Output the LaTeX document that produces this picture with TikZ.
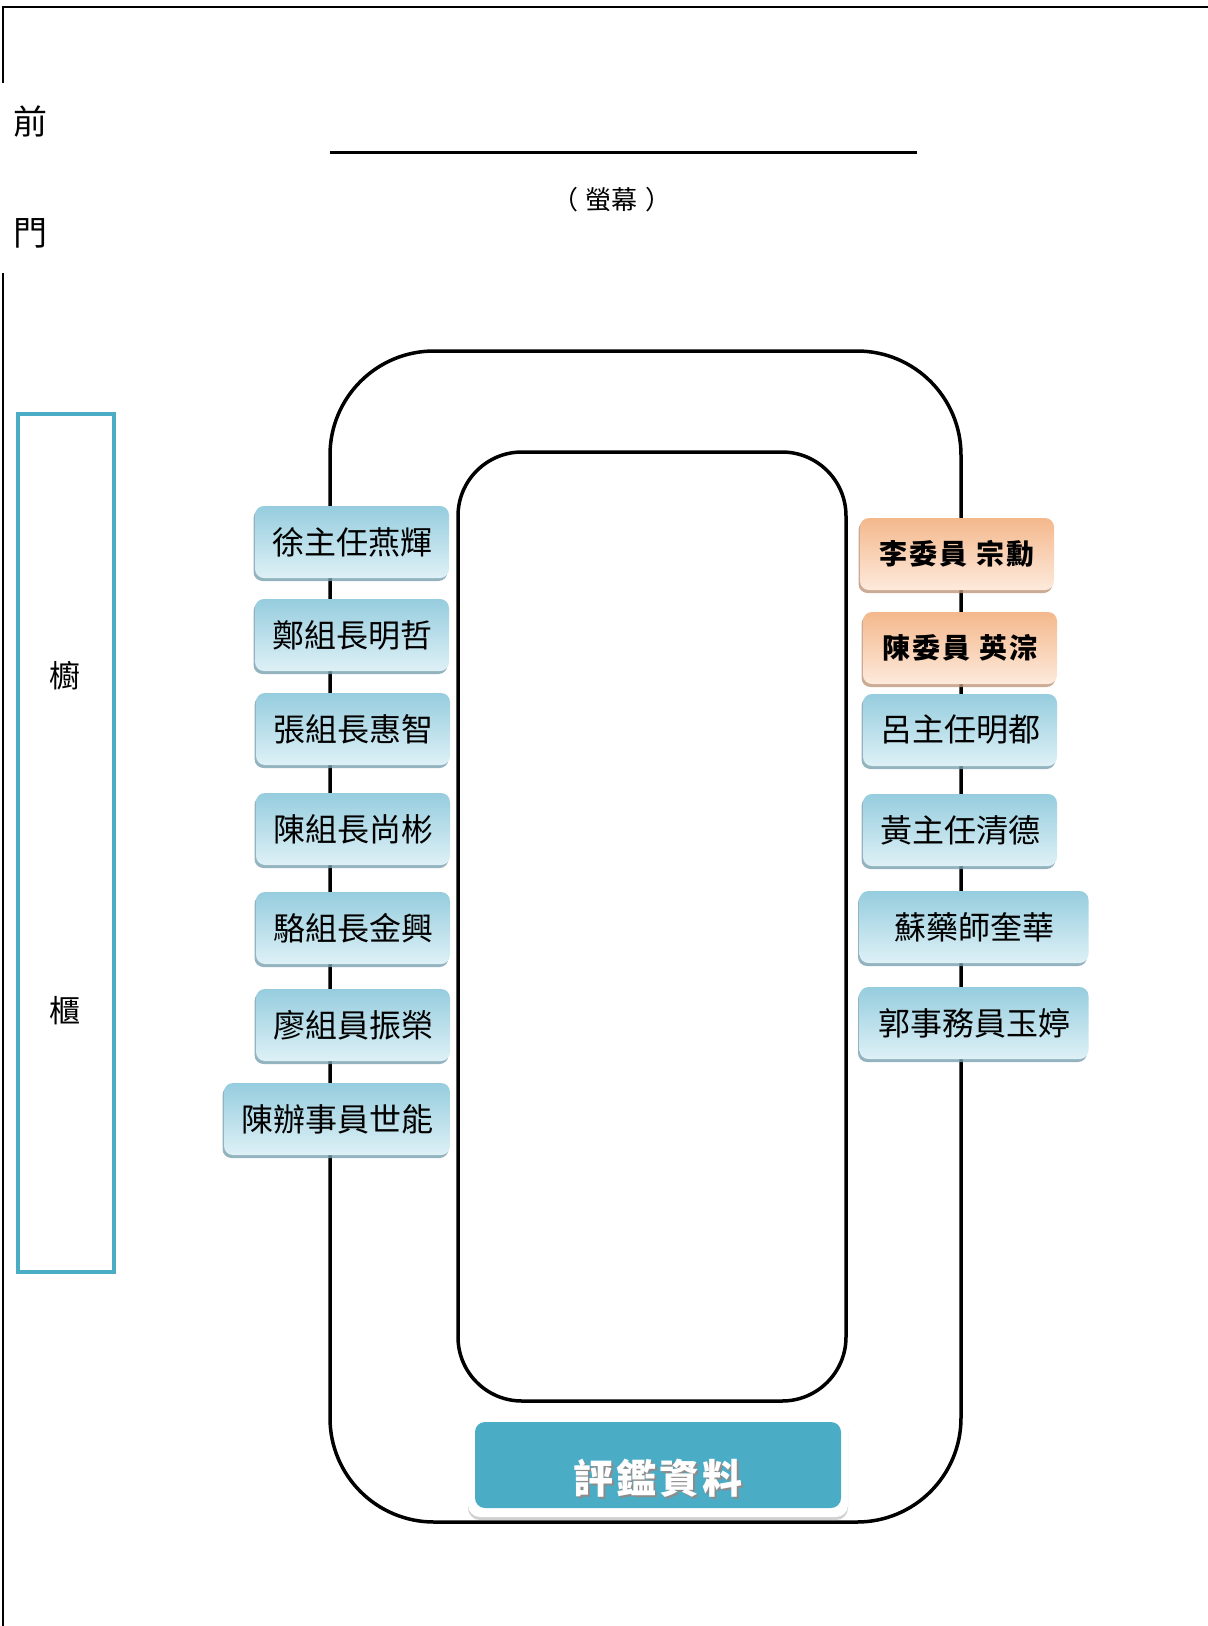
\documentclass[tikz,border=0pt]{standalone}
\usepackage{fontspec}
\newfontfamily\cjk{Noto Sans CJK TC}
\newfontfamily\cjkwide{Noto Sans CJK TC}[LetterSpace=8]
\usetikzlibrary{shadows}
\definecolor{tealline}{RGB}{75,172,198}
\definecolor{bluetop}{RGB}{150,205,222}
\definecolor{bluebot}{RGB}{222,241,246}
\definecolor{orgtop}{RGB}{244,184,140}
\definecolor{orgbot}{RGB}{253,234,220}
\definecolor{bshadow}{RGB}{120,160,175}
\definecolor{oshadow}{RGB}{190,150,120}
\tikzset{
  seat/.style={rounded corners=9pt, draw=none, inner sep=0pt,
    minimum height=72pt, text=black,
    font=\cjk\fontsize{32}{34}\selectfont},
  blueseat/.style={seat, top color=bluetop, bottom color=bluebot,
    drop shadow={shadow xshift=-1.5pt, shadow yshift=-3pt, fill=bshadow, opacity=.8}},
  orangeseat/.style={seat, top color=orgtop, bottom color=orgbot,
    font=\cjkwide\bfseries\fontsize{28}{30}\selectfont,
    drop shadow={shadow xshift=-1.5pt, shadow yshift=-3pt, fill=oshadow, opacity=.8}},
  wall/.style={line width=2.5pt, black},
  label/.style={font=\cjk\fontsize{#1}{#1}\selectfont, inner sep=0pt}
}
\begin{document}
\begin{tikzpicture}[x=1pt,y=-1pt]
\useasboundingbox (0,0) rectangle (1208,1626);
% walls / door
\draw[wall] (3,83) -- (3,7) -- (1208,7);
\draw[wall] (3,273) -- (3,1626);
\node[label=34] (qian) at (30,122) {前};
\node[label=34] (men) at (30,233) {門};
% screen
\draw[line width=3pt] (330,152) -- (917,152);
\node[label=26] (screen) at (612,200) {（\hspace{8pt}螢幕\hspace{8pt}）};
% cabinet
\draw[line width=4.5pt, tealline] (18,414) rectangle (114,1272);
\node[label=31] (chu) at (65,676) {櫥};
\node[label=31] (gui) at (65,1011) {櫃};
% tables
\draw[line width=3.5pt, rounded corners=104pt] (330,351) rectangle (961,1522);
\draw[line width=3.5pt, rounded corners=64pt] (458,452) rectangle (846,1401);
% left seats
\node[blueseat, minimum width=194pt] (l1) at (352,542) {徐主任燕輝};
\node[blueseat, minimum width=194pt] (l2) at (352,635) {鄭組長明哲};
\node[blueseat, minimum width=194pt] (l3) at (353,729) {張組長惠智};
\node[blueseat, minimum width=194pt] (l4) at (353,829) {陳組長尚彬};
\node[blueseat, minimum width=194pt] (l5) at (353,928) {駱組長金興};
\node[blueseat, minimum width=194pt] (l6) at (353,1025) {廖組員振榮};
\node[blueseat, minimum width=226pt] (l7) at (337,1119) {陳辦事員世能};
% right seats
\node[orangeseat, minimum width=194pt] (r1) at (957,554) {李委員 宗勳};
\node[orangeseat, minimum width=194pt] (r2) at (960,648) {陳委員 英淙};
\node[blueseat, minimum width=194pt] (r3) at (960,730) {呂主任明都};
\node[blueseat, minimum width=194pt] (r4) at (960,830) {黃主任清德};
\node[blueseat, minimum width=229pt] (r5) at (974,927) {蘇藥師奎華};
\node[blueseat, minimum width=229pt] (r6) at (974,1023) {郭事務員玉婷};
% data box
\node[rounded corners=12pt, fill=white, minimum width=380pt, minimum height=102pt,
      drop shadow={shadow xshift=0pt, shadow yshift=-3pt, fill=gray!60, opacity=.6}]
      (dataframe) at (658,1466) {};
\node[rounded corners=10pt, fill=tealline, minimum width=366pt, minimum height=86pt]
      (databox) at (658,1465) {};
\node[label=42, font=\cjkwide\bfseries\fontsize{40}{40}\selectfont, text=black!45] (datashadow) at (660,1480) {評鑑資料};
\node[label=42, font=\cjkwide\bfseries\fontsize{40}{40}\selectfont, text=white] (datatext) at (658,1478) {評鑑資料};
\end{tikzpicture}
\end{document}
